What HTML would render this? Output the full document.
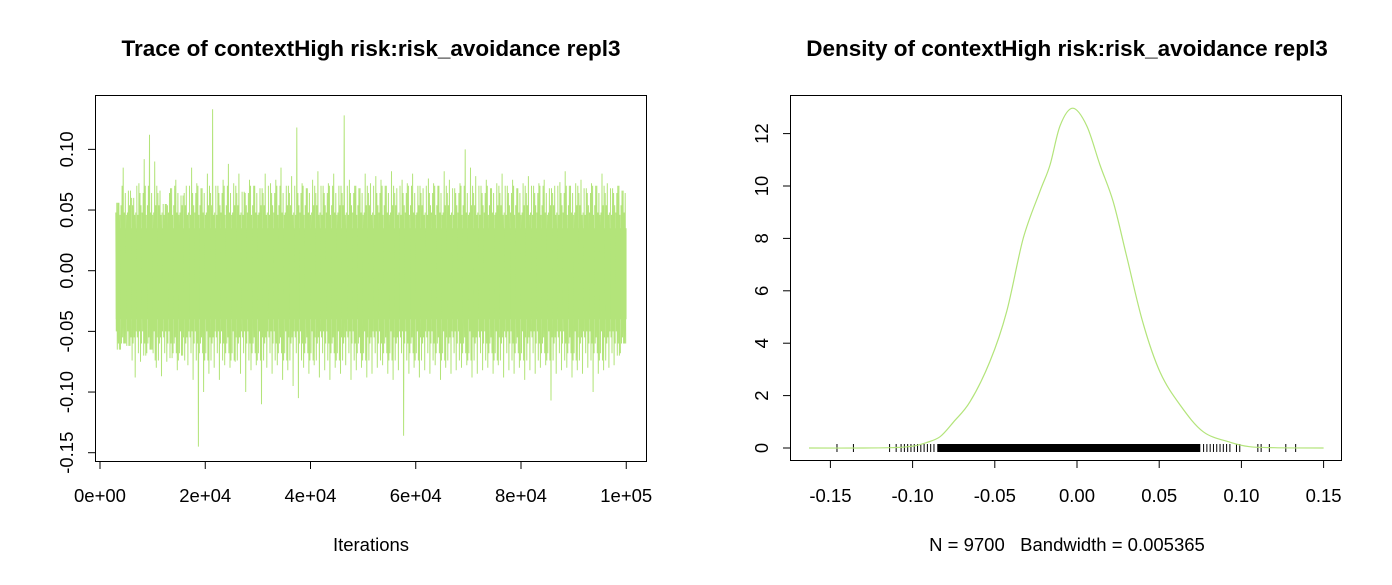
<!DOCTYPE html>
<html><head><meta charset="utf-8"><style>
body{margin:0;background:#fff;}
svg text{font-family:"Liberation Sans",Arial,sans-serif;white-space:pre;}
</style></head><body>
<svg id="c" width="1392" height="580" xmlns="http://www.w3.org/2000/svg">
<rect width="1392" height="580" fill="#fff"/>
<text x="371" y="56" text-anchor="middle" font-size="22.5" font-weight="bold">Trace of contextHigh risk:risk_avoidance repl3</text>
<text x="1067" y="56" text-anchor="middle" font-size="22.5" font-weight="bold">Density of contextHigh risk:risk_avoidance repl3</text>
<text x="371" y="551" text-anchor="middle" font-size="18.5">Iterations</text>
<text x="1067" y="551" text-anchor="middle" font-size="18.5" xml:space="preserve">N = 9700   Bandwidth = 0.005365</text>
<g id="trace"></g>
<g id="dens"></g>
</svg>
<script>
// Trace data: per-1000-iteration bin maxima / minima, iterations 3000..99000
const traceStart = 3000;
const traceBin = 1000;
const traceHi = [0.056,0.085,0.066,0.060,0.072,0.092,0.112,0.090,0.066,0.055,0.068,0.075,0.062,0.070,0.085,0.072,0.068,0.080,0.133,0.070,0.075,0.088,0.072,0.080,0.065,0.075,0.070,0.068,0.080,0.072,0.075,0.085,0.070,0.078,0.118,0.072,0.068,0.075,0.082,0.070,0.072,0.080,0.070,0.128,0.075,0.070,0.068,0.080,0.072,0.078,0.075,0.070,0.082,0.068,0.075,0.072,0.080,0.070,0.068,0.076,0.072,0.070,0.082,0.075,0.068,0.072,0.100,0.085,0.078,0.070,0.075,0.068,0.072,0.080,0.070,0.075,0.068,0.072,0.078,0.070,0.072,0.075,0.068,0.070,0.073,0.082,0.070,0.072,0.075,0.068,0.072,0.070,0.080,0.072,0.068,0.070,0.066];
const traceLo = [-0.065,-0.060,-0.062,-0.088,-0.075,-0.070,-0.065,-0.080,-0.087,-0.075,-0.072,-0.082,-0.070,-0.078,-0.090,-0.145,-0.100,-0.085,-0.080,-0.090,-0.078,-0.080,-0.075,-0.085,-0.100,-0.082,-0.078,-0.110,-0.080,-0.085,-0.078,-0.090,-0.082,-0.095,-0.105,-0.080,-0.085,-0.078,-0.088,-0.082,-0.090,-0.080,-0.085,-0.078,-0.090,-0.082,-0.080,-0.088,-0.085,-0.080,-0.078,-0.085,-0.090,-0.082,-0.136,-0.085,-0.080,-0.088,-0.082,-0.085,-0.078,-0.090,-0.080,-0.085,-0.082,-0.080,-0.078,-0.088,-0.085,-0.082,-0.080,-0.085,-0.078,-0.088,-0.082,-0.085,-0.080,-0.090,-0.082,-0.085,-0.080,-0.078,-0.107,-0.085,-0.082,-0.080,-0.088,-0.082,-0.085,-0.080,-0.100,-0.085,-0.082,-0.080,-0.078,-0.070,-0.060];
const traceXTicks = [0,20000,40000,60000,80000,100000];
const traceXLabels = ["0e+00","2e+04","4e+04","6e+04","8e+04","1e+05"];
const traceYTicks = [-0.15,-0.10,-0.05,0.00,0.05,0.10];
const traceYLabels = ["-0.15","-0.10","-0.05","0.00","0.05","0.10"];
// Density data
const densX = [-0.163,-0.13,-0.11,-0.10,-0.092,-0.0833,-0.075,-0.065,-0.053,-0.0428,-0.0327,-0.0225,-0.0164,-0.0103,-0.0026,0.0059,0.014,0.022,0.030,0.040,0.0505,0.0627,0.0768,0.093,0.105,0.12,0.15];
const densY = [0,0,0.02,0.07,0.2,0.43,1.0,1.77,3.3,5.2,8.0,9.8,10.8,12.3,12.97,12.3,10.8,9.4,7.37,4.8,2.9,1.64,0.62,0.22,0.05,0.01,0];
const rugOutliers = [-0.146,-0.136,-0.114,-0.110,-0.107,-0.105,-0.103,-0.101,-0.099,-0.097,-0.095,-0.093,-0.091,-0.089,-0.087,0.077,0.079,0.081,0.083,0.085,0.087,0.089,0.091,0.093,0.097,0.099,0.110,0.112,0.117,0.127,0.133];
const rugDense = [-0.085,0.075];
const densXTicks = [-0.15,-0.10,-0.05,0.00,0.05,0.10,0.15];
const densXLabels = ["-0.15","-0.10","-0.05","0.00","0.05","0.10","0.15"];
const densYTicks = [0,2,4,6,8,10,12];
const densYLabels = ["0","2","4","6","8","10","12"];

const NS="http://www.w3.org/2000/svg";
function mk(parent,tag,attrs){const e=document.createElementNS(NS,tag);for(const k in attrs)e.setAttribute(k,attrs[k]);parent.appendChild(e);return e;}
const FS=18.5;

// ---- Trace plot ----
const tg=document.getElementById('trace');
const tx=v=>100+v*105.25/20000;
const ty=v=>270.7-v*1213.4;
const green="#b3e47a";
const midHi=[0.048,0.064,0.054,0.070,0.046];
const midLo=[-0.055,-0.068,-0.050,-0.074,-0.060];
for(let i=0;i<traceHi.length;i++){
  const x0=tx(traceStart+i*traceBin), x1=tx(traceStart+(i+1)*traceBin);
  const core=mk(tg,'rect',{x:x0,y:ty(0.035),width:x1-x0+0.3,height:ty(-0.04)-ty(0.035),fill:green});
  
  
  let d='';
  const n=5;
  for(let k=0;k<n;k++){
    const x=x0+(x1-x0)*k/n;
    const j=(k+i*2)%5;
    const h=k===2?traceHi[i]:Math.min(traceHi[i],midHi[j]);
    const l=k===3?traceLo[i]:Math.max(traceLo[i],midLo[(j+2)%5]);
    d+=(d?'L':'M')+x.toFixed(1)+' '+ty(h).toFixed(1)+'L'+(x+0.5).toFixed(1)+' '+ty(l).toFixed(1);
  }
  const p=mk(tg,'path',{d:d,stroke:green,'stroke-width':1,fill:'none'});
  
  
}
const tbox=mk(tg,'rect',{x:95.5,y:95.5,width:551,height:366,fill:'none',stroke:'#000','stroke-width':1});


mk(tg,'line',{x1:tx(0),x2:tx(100000),y1:461.5,y2:461.5,stroke:'#000'});
traceXTicks.forEach((v,i)=>{
  mk(tg,'line',{x1:tx(v),x2:tx(v),y1:461.5,y2:469,stroke:'#000'});
  const t=mk(tg,'text',{x:tx(v),y:502,'text-anchor':'middle','font-size':FS});
  t.textContent=traceXLabels[i];
  
  
});
mk(tg,'line',{x1:95.5,x2:95.5,y1:ty(0.10),y2:ty(-0.15),stroke:'#000'});
traceYTicks.forEach((v,i)=>{
  mk(tg,'line',{x1:88,x2:95.5,y1:ty(v),y2:ty(v),stroke:'#000'});
  const t=mk(tg,'text',{x:0,y:0,'text-anchor':'middle','font-size':FS,transform:`translate(73,${ty(v)}) rotate(-90)`});
  t.textContent=traceYLabels[i];
  
  
});

// ---- Density plot ----
const dg=document.getElementById('dens');
const dx=v=>1077+v*1644;
const dy=v=>448-v*26.2;
const rd=mk(dg,'rect',{x:dx(rugDense[0]),y:444,width:dx(rugDense[1])-dx(rugDense[0]),height:8,fill:'#000'});


rugOutliers.forEach(v=>{
  const l=mk(dg,'line',{x1:dx(v),x2:dx(v),y1:444,y2:452,stroke:'#000','stroke-width':1});
  
  
});
const P=densX.map((v,i)=>[dx(v),dy(densY[i])]);
let dd='M'+P[0][0].toFixed(1)+' '+P[0][1].toFixed(1);
for(let i=0;i<P.length-1;i++){
  const p0=P[Math.max(0,i-1)],p1=P[i],p2=P[i+1],p3=P[Math.min(P.length-1,i+2)];
  const c1=[p1[0]+(p2[0]-p0[0])/6,p1[1]+(p2[1]-p0[1])/6];
  const c2=[p2[0]-(p3[0]-p1[0])/6,p2[1]-(p3[1]-p1[1])/6];
  dd+=`C${c1[0].toFixed(1)} ${c1[1].toFixed(1)} ${c2[0].toFixed(1)} ${c2[1].toFixed(1)} ${p2[0].toFixed(1)} ${p2[1].toFixed(1)}`;
}
const dp=mk(dg,'path',{d:dd,stroke:green,'stroke-width':1.2,fill:'none','stroke-linejoin':'round'});


const dbox=mk(dg,'rect',{x:790.5,y:95.5,width:551,height:365,fill:'none',stroke:'#000','stroke-width':1});


mk(dg,'line',{x1:dx(-0.15),x2:dx(0.15),y1:460.5,y2:460.5,stroke:'#000'});
densXTicks.forEach((v,i)=>{
  mk(dg,'line',{x1:dx(v),x2:dx(v),y1:460.5,y2:468,stroke:'#000'});
  const t=mk(dg,'text',{x:dx(v),y:502,'text-anchor':'middle','font-size':FS});
  t.textContent=densXLabels[i];
  
  
});
mk(dg,'line',{x1:790.5,x2:790.5,y1:dy(12),y2:dy(0),stroke:'#000'});
densYTicks.forEach((v,i)=>{
  mk(dg,'line',{x1:783,x2:790.5,y1:dy(v),y2:dy(v),stroke:'#000'});
  const t=mk(dg,'text',{x:0,y:0,'text-anchor':'middle','font-size':FS,transform:`translate(768,${dy(v)}) rotate(-90)`});
  t.textContent=densYLabels[i];
  
  
});
</script>
</body></html>
